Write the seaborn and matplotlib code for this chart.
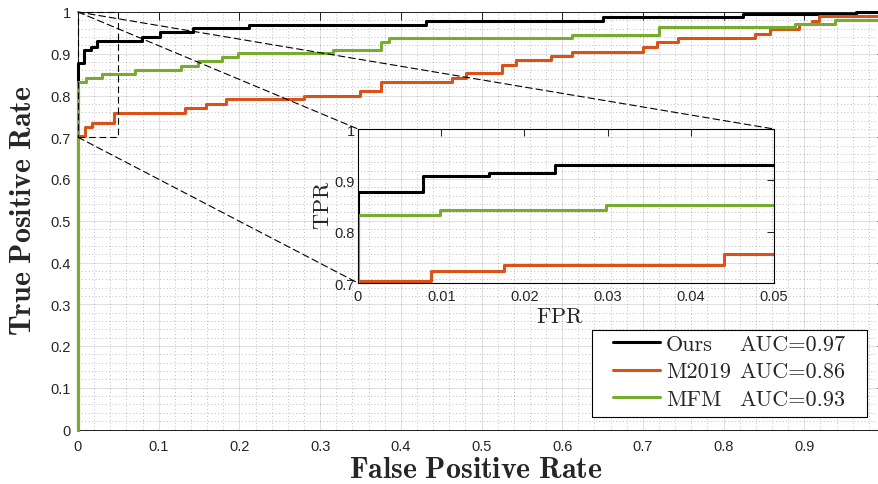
import numpy as np
import pandas as pd
import matplotlib
matplotlib.use("Agg")
import matplotlib.pyplot as plt
from matplotlib.patches import Rectangle, ConnectionPatch
from matplotlib.lines import Line2D
from matplotlib.ticker import MultipleLocator
from matplotlib.font_manager import FontProperties
import seaborn as sns

# ROC step corners (false positive rate, true positive rate) for each method
ours_fpr = [0, 0, 0.0078, 0.0158, 0.0237, 0.079, 0.1016, 0.143, 0.212, 0.431, 0.651, 0.824, 0.964, 1.0]
ours_tpr = [0, 0.877, 0.908, 0.915, 0.930, 0.939, 0.953, 0.962, 0.970, 0.978, 0.987, 0.995, 1.0, 1.0]

m2019_fpr = [0, 0, 0.0088, 0.0176, 0.0440, 0.132, 0.158, 0.184, 0.280, 0.350, 0.376, 0.464, 0.481,
             0.525, 0.543, 0.586, 0.6125, 0.700, 0.718, 0.743, 0.839, 0.857, 0.893, 0.909, 0.918, 1.0]
m2019_tpr = [0, 0.703, 0.724, 0.735, 0.757, 0.769, 0.780, 0.791, 0.800, 0.811, 0.833, 0.842, 0.853,
             0.874, 0.885, 0.895, 0.905, 0.917, 0.927, 0.938, 0.947, 0.959, 0.971, 0.979, 0.990, 0.990]

mfm_fpr = [0, 0, 0.0099, 0.0298, 0.0706, 0.128, 0.149, 0.178, 0.198, 0.316, 0.375, 0.385, 0.6125,
           0.720, 0.888, 0.938, 1.0]
mfm_tpr = [0, 0.833, 0.843, 0.852, 0.862, 0.871, 0.882, 0.892, 0.901, 0.909, 0.929, 0.937, 0.946,
           0.963, 0.971, 0.980, 0.980]

methods = ["Ours", "M2019", "MFM"]
auc_values = [0.97, 0.86, 0.93]
colors = ["#000000", "#D95319", "#77AC30"]

x_ticks = [0, 0.1, 0.2, 0.3, 0.4, 0.5, 0.6, 0.7, 0.8, 0.9]
x_tick_labels = ["0", "0.1", "0.2", "0.3", "0.4", "0.5", "0.6", "0.7", "0.8", "0.9"]
y_ticks = [0, 0.1, 0.2, 0.3, 0.4, 0.5, 0.6, 0.7, 0.8, 0.9, 1.0]
y_tick_labels = ["0", "0.1", "0.2", "0.3", "0.4", "0.5", "0.6", "0.7", "0.8", "0.9", "1"]
zoom_x_ticks = [0, 0.01, 0.02, 0.03, 0.04, 0.05]
zoom_x_tick_labels = ["0", "0.01", "0.02", "0.03", "0.04", "0.05"]
zoom_y_ticks = [0.7, 0.8, 0.9, 1.0]
zoom_y_tick_labels = ["0.7", "0.8", "0.9", "1"]

sns.set_style("white")
plt.rcParams["font.family"] = ["Liberation Sans", "DejaVu Sans"]
plt.rcParams["mathtext.fontset"] = "cm"

df = pd.concat([
    pd.DataFrame({"FPR": f, "TPR": t, "method": m})
    for m, f, t in zip(methods, [ours_fpr, m2019_fpr, mfm_fpr], [ours_tpr, m2019_tpr, mfm_tpr])
], ignore_index=True)
palette = dict(zip(methods, colors))

W, H = 879, 485
fig = plt.figure(figsize=(W / 100, H / 100), dpi=100)


def px_rect(left, top, right, bottom):
    return [left / W, 1 - bottom / H, (right - left) / W, (bottom - top) / H]


AX_COL = "#262626"
LW = 2.2

# ---- main ROC axes ----
ax = fig.add_axes(px_rect(78, 13, 885, 430.5))
sns.lineplot(data=df, x="FPR", y="TPR", hue="method", hue_order=methods, palette=palette,
             estimator=None, sort=False, drawstyle="steps-post", lw=LW, legend=False,
             clip_on=False, ax=ax, zorder=3)
ax.set_xlim(0, 1)
ax.set_ylim(0, 1)
ax.set_xticks(x_ticks, x_tick_labels)
ax.set_yticks(y_ticks, y_tick_labels)
ax.xaxis.set_minor_locator(MultipleLocator(0.02))
ax.yaxis.set_minor_locator(MultipleLocator(0.02))
ax.tick_params(which="major", direction="in", length=6, width=0.75, color=AX_COL,
               labelcolor=AX_COL, labelsize=10.5, top=True, right=True)
ax.tick_params(axis="x", which="major", pad=6.5)
ax.tick_params(axis="y", which="major", pad=5)
ax.tick_params(which="minor", length=0, top=True, right=True)
ax.grid(which="major", color=AX_COL, alpha=0.15, lw=0.7, ls="-")
ax.grid(which="minor", color=AX_COL, alpha=0.3, lw=0.7, ls=(0, (1, 2.5)))
ax.set_axisbelow(True)
for s in ax.spines.values():
    s.set_color(AX_COL)
    s.set_linewidth(0.75)
ax.set_xlabel("")
ax.set_ylabel("")
fig.text(475.5 / W, 1 - 470 / H, r"$\mathbf{False\ Positive\ Rate}$", fontsize=21.5,
         ha="center", va="center", color=AX_COL)
fig.text(23 / W, 1 - 211 / H, r"$\mathbf{True\ Positive\ Rate}$", fontsize=21.5,
         ha="center", va="center", rotation=90, color=AX_COL)

# dashed box marking the zoomed region
dash = (0, (6, 3.5))
ax.add_patch(Rectangle((0, 0.7), 0.05, 0.3, fill=False, ec="black", lw=0.8, ls=dash,
                       clip_on=False, zorder=4))

# ---- zoomed inset ----
axins = fig.add_axes(px_rect(358, 130, 774, 284))
axins.patch.set_alpha(0)
sns.lineplot(data=df, x="FPR", y="TPR", hue="method", hue_order=methods, palette=palette,
             estimator=None, sort=False, drawstyle="steps-post", lw=LW, legend=False, ax=axins)
axins.set_xlim(0, 0.05)
axins.set_ylim(0.7, 1)
axins.set_xticks(zoom_x_ticks, zoom_x_tick_labels)
axins.set_yticks(zoom_y_ticks, zoom_y_tick_labels)
axins.tick_params(direction="in", length=5, width=0.75, color=AX_COL, labelcolor=AX_COL,
                  labelsize=10.5, top=True, right=True)
axins.tick_params(axis="x", pad=4)
axins.tick_params(axis="y", pad=2)
axins.grid(False)
for s in axins.spines.values():
    s.set_color("black")
    s.set_linewidth(0.8)
axins.set_xlabel("")
axins.set_ylabel("")
axins.text(0.486, -0.22, r"$\mathrm{FPR}$", transform=axins.transAxes, fontsize=16,
           ha="center", va="center", color=AX_COL)
axins.text(-0.082, 0.513, r"$\mathrm{TPR}$", transform=axins.transAxes, fontsize=16,
           ha="center", va="center", rotation=90, color=AX_COL)

# connector lines from the marked region to the inset
for a_pt, b_pt in [((0, 1), (0, 1)), ((0, 1), (1, 1)), ((0, 0.7), (0, 0))]:
    con = ConnectionPatch(xyA=a_pt, coordsA=ax.transData, xyB=b_pt, coordsB=axins.transAxes,
                          color="black", lw=0.8, ls=dash)
    fig.add_artist(con)

# ---- legend: method names in one column, AUC in a second, inside a boxed panel ----
ax.add_patch(Rectangle((592 / W, 1 - 418 / H), 275 / W, 87 / H, transform=fig.transFigure,
                       facecolor="white", edgecolor="black", lw=0.8, clip_on=False, zorder=4.5))
handles = [Line2D([], [], color=c, lw=LW) for c in colors]
blank = [Line2D([], [], ls="none") for _ in methods]
labels = list(methods) + [f"AUC={v:.2f}" for v in auc_values]
leg = ax.legend(handles + blank, labels, ncol=2, loc="upper left",
                bbox_to_anchor=(613 / W, 1 - 335 / H), bbox_transform=fig.transFigure,
                borderaxespad=0, borderpad=0, frameon=False,
                prop=FontProperties(family="cmr10", size=16),
                handlelength=2.1, handletextpad=0.28, columnspacing=-2.0,
                labelspacing=0.37)
leg.set_zorder(5)

fig.savefig("out.png", dpi=100)
